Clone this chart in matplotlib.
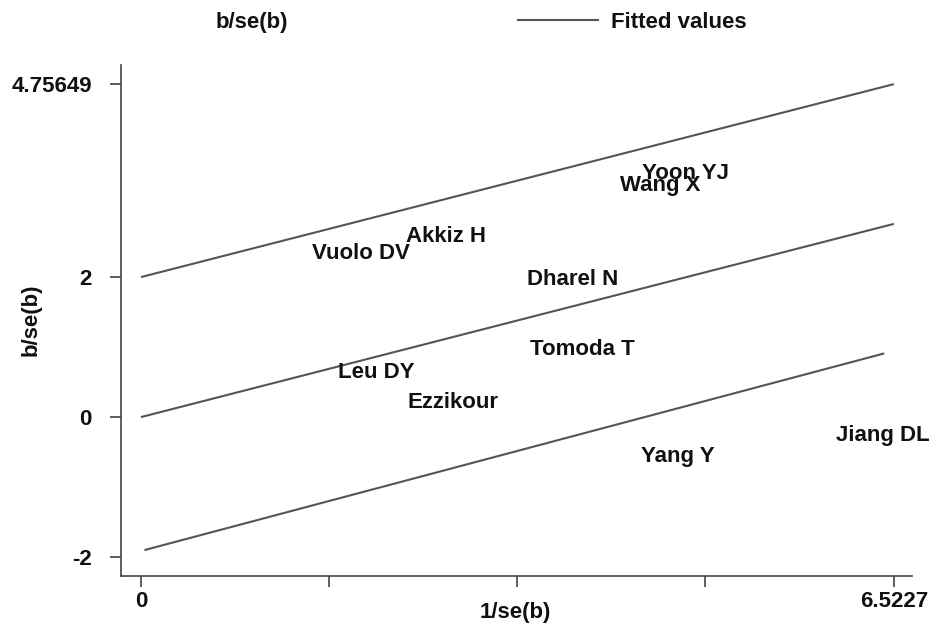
import matplotlib.pyplot as plt
from matplotlib.lines import Line2D

plt.rcParams['font.family'] = ['Liberation Sans', 'DejaVu Sans']
plt.rcParams['font.weight'] = 'bold'

# study labels placed at (1/se(b), b/se(b))
studies = ["Vuolo DV", "Akkiz H", "Leu DY", "Ezzikour", "Dharel N",
           "Tomoda T", "Yang Y", "Jiang DL", "Yoon YJ", "Wang X"]
precision = [1.91, 2.64, 2.04, 2.70, 3.74, 3.82, 4.65, 6.43, 4.72, 4.50]
zscore = [2.34, 2.58, 0.63, 0.21, 1.97, 0.96, -0.57, -0.27, 3.48, 3.31]

# fitted line and +/-2 band
fit_x = [0, 6.5227]
fit_mid = [0, 2.76]
fit_up = [2, 4.75649]
low_x = [0.03, 6.44]
fit_low = [-1.90, 0.91]

xticks = [0, 1.63, 3.26, 4.89, 6.5227]
xticklabels = ["0", "", "", "", "6.5227"]
yticks = [-2, 0, 2, 4.75649]
yticklabels = ["-2", "0", "2", "4.75649"]

fig = plt.figure(figsize=(9.35, 6.39), dpi=100)
ax = fig.add_axes([0.1294, 0.0986, 0.846, 0.7997])

line_kw = dict(color="#555555", lw=1.5, solid_capstyle="butt")
ax.plot(fit_x, fit_up, **line_kw)
ax.plot(fit_x, fit_mid, **line_kw)
ax.plot(low_x, fit_low, **line_kw)

for name, x, y in zip(studies, precision, zscore):
    ax.text(x, y, name, ha="center", va="center", fontsize=16,
            fontweight="bold", color="#111111")

ax.set_xlim(-0.173, 6.68)
ax.set_ylim(-2.27, 5.03)
ax.set_xticks(xticks)
ax.set_xticklabels(xticklabels)
ax.set_yticks(yticks)
ax.set_yticklabels(yticklabels)

for s in ["top", "right"]:
    ax.spines[s].set_visible(False)
for s in ["left", "bottom"]:
    ax.spines[s].set_color("#444444")
    ax.spines[s].set_linewidth(1.2)

ax.tick_params(axis="both", direction="out", length=8, width=1.2,
               color="#444444", labelsize=16, labelcolor="#111111")
ax.tick_params(axis="y", pad=13)
ax.tick_params(axis="x", pad=3)

fig.text(0.551, 0.042, "1/se(b)", ha="center", va="center", fontsize=16,
         fontweight="bold", color="#111111")
fig.text(0.033, 0.50, "b/se(b)", ha="center", va="center", rotation=90,
         fontsize=16, fontweight="bold", color="#111111")

handles = [Line2D([], [], linestyle="none"),
           Line2D([], [], color="#555555", lw=1.5)]
fig.legend(handles, ["b/se(b)", "Fitted values"], ncol=2, frameon=False,
           loc="center left", bbox_to_anchor=(0.109, 0.965), handlelength=3.6,
           handletextpad=0.6, columnspacing=10.35,
           prop={"size": 16, "weight": "bold"}, labelcolor="#111111")

fig.savefig("out.png", dpi=100, facecolor="white")
